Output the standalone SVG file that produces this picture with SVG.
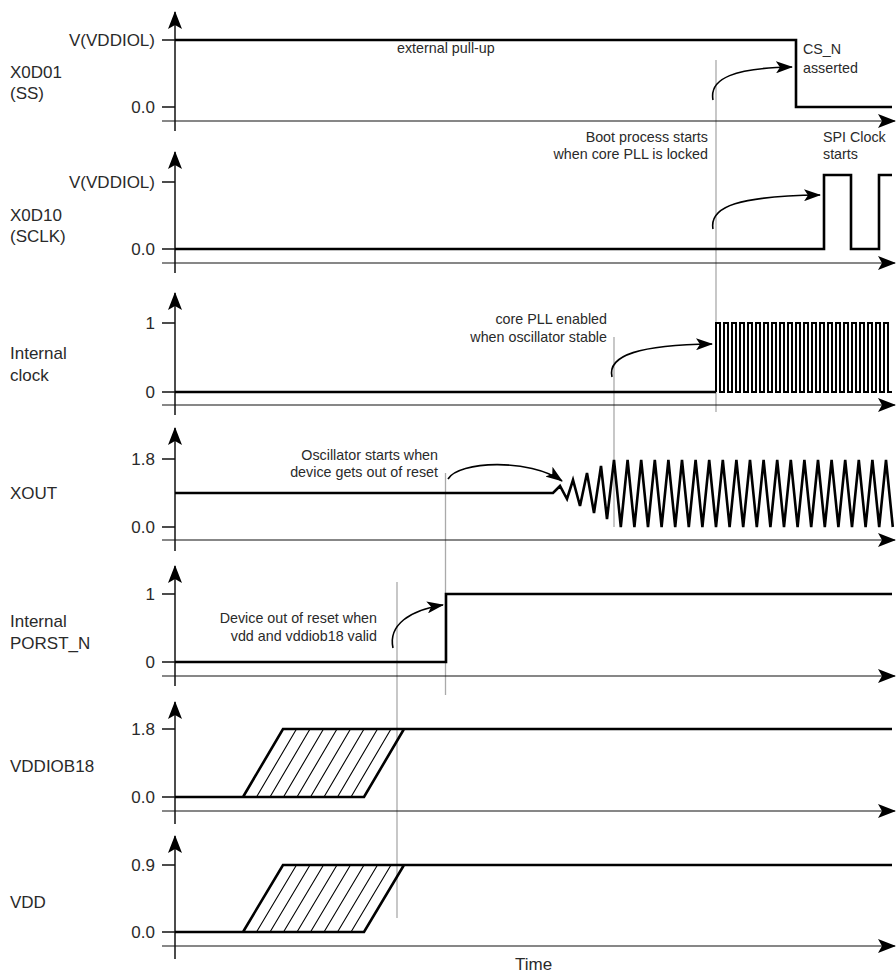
<svg xmlns="http://www.w3.org/2000/svg" width="896" height="975" viewBox="0 0 896 975">
<defs>
<marker id="axh" markerUnits="userSpaceOnUse" viewBox="0 0 18 14" refX="17" refY="7" markerWidth="18" markerHeight="14" orient="auto">
<path d="M0,0 L18,7 L0,14 L4,7 Z" fill="#000"/>
</marker>
<marker id="anh" markerUnits="userSpaceOnUse" viewBox="0 0 17 12" refX="16" refY="6" markerWidth="17" markerHeight="12" orient="auto">
<path d="M0,0 L17,6 L0,12 L4,6 Z" fill="#000"/>
</marker>
<style>
.ax{stroke:#111;stroke-width:1.5;fill:none}
.tax{stroke:#111;stroke-width:1.2;fill:none}
.tk{stroke:#111;stroke-width:1.5;fill:none}
.sig{stroke:#000;stroke-width:2.6;fill:none;stroke-linejoin:miter}
.thin{stroke:#000;stroke-width:2;fill:none}
.hatch{stroke:#000;stroke-width:1.1;fill:none}
.guide{stroke:#aaa;stroke-width:1.3;fill:none}
.ann{stroke:#000;stroke-width:1.6;fill:none}
.lbl{font-family:"Liberation Sans",Arial,sans-serif;font-size:17px;fill:#2a2a2a}
.tl{font-family:"Liberation Sans",Arial,sans-serif;font-size:17px;fill:#2a2a2a;text-anchor:end}
.note{font-family:"Liberation Sans",Arial,sans-serif;font-size:14.3px;fill:#2a2a2a}
.noter{font-family:"Liberation Sans",Arial,sans-serif;font-size:14.3px;fill:#2a2a2a;text-anchor:end}
</style>
</defs>

<g id="guides">
<line class="guide" x1="716" y1="60" x2="716" y2="412"/>
<line class="guide" x1="614" y1="337" x2="614" y2="527"/>
<line class="guide" x1="445.5" y1="473" x2="445.5" y2="695"/>
<line class="guide" x1="397" y1="582" x2="397" y2="918"/>
</g>

<g id="panel-ss">
<line class="ax" x1="175" y1="131" x2="175" y2="12" marker-end="url(#axh)"/>
<line class="tax" x1="162" y1="121" x2="895" y2="121" marker-end="url(#axh)"/>
<line class="tk" x1="162" y1="40" x2="175" y2="40"/>
<line class="tk" x1="162" y1="107" x2="175" y2="107"/>
<text class="tl" x="155" y="46">V(VDDIOL)</text>
<text class="tl" x="155" y="113">0.0</text>
<text class="lbl" x="10" y="78">X0D01</text>
<text class="lbl" x="10" y="99">(SS)</text>
<path class="sig" d="M175,40 H796 V107 H892"/>
<text class="note" x="397" y="53">external pull-up</text>
<text class="note" x="803" y="54">CS_N</text>
<text class="note" x="803" y="72.5">asserted</text>
</g>

<g id="panel-sclk">
<line class="ax" x1="175" y1="273" x2="175" y2="152" marker-end="url(#axh)"/>
<line class="tax" x1="162" y1="263" x2="895" y2="263" marker-end="url(#axh)"/>
<line class="tk" x1="162" y1="182" x2="175" y2="182"/>
<line class="tk" x1="162" y1="249" x2="175" y2="249"/>
<text class="tl" x="155" y="188">V(VDDIOL)</text>
<text class="tl" x="155" y="255">0.0</text>
<text class="lbl" x="10" y="221">X0D10</text>
<text class="lbl" x="10" y="242">(SCLK)</text>
<path class="sig" d="M175,249 H824 V175 H851 V249 H879 V175 H892"/>
<text class="noter" x="708" y="141.5">Boot process starts</text>
<text class="noter" x="708" y="159">when core PLL is locked</text>
<text class="note" x="823" y="141.5">SPI Clock</text>
<text class="note" x="823" y="159">starts</text>
</g>

<g id="panel-clock">
<line class="ax" x1="175" y1="415" x2="175" y2="293" marker-end="url(#axh)"/>
<line class="tax" x1="162" y1="405" x2="895" y2="405" marker-end="url(#axh)"/>
<line class="tk" x1="162" y1="323" x2="175" y2="323"/>
<line class="tk" x1="162" y1="392" x2="175" y2="392"/>
<text class="tl" x="155" y="329">1</text>
<text class="tl" x="155" y="398">0</text>
<text class="lbl" x="10" y="359">Internal</text>
<text class="lbl" x="10" y="381">clock</text>
<path class="sig" d="M175,392 H716"/>
<path class="thin" d="M716,392 V323 h4 V392 h4 V323 h4 V392 h4 V323 h4 V392 h4 V323 h4 V392 h4 V323 h4 V392 h4 V323 h4 V392 h4 V323 h4 V392 h4 V323 h4 V392 h4 V323 h4 V392 h4 V323 h4 V392 h4 V323 h4 V392 h4 V323 h4 V392 h4 V323 h4 V392 h4 V323 h4 V392 h4 V323 h4 V392 h4 V323 h4 V392 h4 V323 h4 V392 h4 V323 h4 V392 h4 V323 h4 V392 h4 V323 h4 V392 h4 V323 h4 V392 h4 V323 h4 V392 h4"/>
<text class="noter" x="607" y="324">core PLL enabled</text>
<text class="noter" x="607" y="342">when oscillator stable</text>
</g>

<g id="panel-xout">
<line class="ax" x1="175" y1="551" x2="175" y2="428" marker-end="url(#axh)"/>
<line class="tax" x1="162" y1="540" x2="895" y2="540" marker-end="url(#axh)"/>
<line class="tk" x1="162" y1="459" x2="175" y2="459"/>
<line class="tk" x1="162" y1="527" x2="175" y2="527"/>
<text class="tl" x="155" y="465">1.8</text>
<text class="tl" x="155" y="533">0.0</text>
<text class="lbl" x="10" y="499">XOUT</text>
<path class="sig" stroke-width="2.4" d="M175,493 H553 L560,486 L567,499 L573,480 L580,506 L587,473 L594,513 L601,466 L607,519 L614,460 l6.8,67 l6.8,-67 l6.8,67 l6.8,-67 l6.8,67 l6.8,-67 l6.8,67 l6.8,-67 l6.8,67 l6.8,-67 l6.8,67 l6.8,-67 l6.8,67 l6.8,-67 l6.8,67 l6.8,-67 l6.8,67 l6.8,-67 l6.8,67 l6.8,-67 l6.8,67 l6.8,-67 l6.8,67 l6.8,-67 l6.8,67 l6.8,-67 l6.8,67 l6.8,-67 l6.8,67 l6.8,-67 l6.8,67 l6.8,-67 l6.8,67 l6.8,-67 l6.8,67 l6.8,-67 l6.8,67 l6.8,-67 l6.8,67 l6.8,-67 l6.8,67"/>
<text class="noter" x="438" y="460">Oscillator starts when</text>
<text class="noter" x="438" y="477">device gets out of reset</text>
</g>

<g id="panel-porst">
<line class="ax" x1="175" y1="686" x2="175" y2="566" marker-end="url(#axh)"/>
<line class="tax" x1="162" y1="676" x2="895" y2="676" marker-end="url(#axh)"/>
<line class="tk" x1="162" y1="594" x2="175" y2="594"/>
<line class="tk" x1="162" y1="662" x2="175" y2="662"/>
<text class="tl" x="155" y="600">1</text>
<text class="tl" x="155" y="668">0</text>
<text class="lbl" x="10" y="627">Internal</text>
<text class="lbl" x="10" y="649">PORST_N</text>
<path class="sig" d="M175,662 H446 V594 H892"/>
<text class="noter" x="377" y="623">Device out of reset when</text>
<text class="noter" x="377" y="641">vdd and vddiob18 valid</text>
</g>

<g id="panel-vddiob18">
<line class="ax" x1="175" y1="824" x2="175" y2="702" marker-end="url(#axh)"/>
<line class="tax" x1="162" y1="811" x2="895" y2="811" marker-end="url(#axh)"/>
<line class="tk" x1="162" y1="729" x2="175" y2="729"/>
<line class="tk" x1="162" y1="797" x2="175" y2="797"/>
<text class="tl" x="155" y="735">1.8</text>
<text class="tl" x="155" y="803">0.0</text>
<text class="lbl" x="10" y="772">VDDIOB18</text>
<path class="hatch" d="M256.5,797 L296.5,729 M270,797 L310,729 M283.5,797 L323.5,729 M297,797 L337,729 M310.5,797 L350.5,729 M324,797 L364,729 M337.5,797 L377.5,729 M351,797 L391,729"/>
<path class="sig" d="M175,797 H364 L404,729 M243,797 L283,729 H892"/>
</g>

<g id="panel-vdd">
<line class="ax" x1="175" y1="959" x2="175" y2="836" marker-end="url(#axh)"/>
<line class="tax" x1="162" y1="946" x2="895" y2="946" marker-end="url(#axh)"/>
<line class="tk" x1="162" y1="865" x2="175" y2="865"/>
<line class="tk" x1="162" y1="932" x2="175" y2="932"/>
<text class="tl" x="155" y="871">0.9</text>
<text class="tl" x="155" y="938">0.0</text>
<text class="lbl" x="10" y="908">VDD</text>
<path class="hatch" d="M256.5,932 L296.5,865 M270,932 L310,865 M283.5,932 L323.5,865 M297,932 L337,865 M310.5,932 L350.5,865 M324,932 L364,865 M337.5,932 L377.5,865 M351,932 L391,865"/>
<path class="sig" d="M175,932 H364 L404,865 M243,932 L283,865 H892"/>
<text class="lbl" x="515" y="970">Time</text>
</g>

<g id="connectors">
<path class="ann" d="M713,100 C709,78 735,68 792,67" marker-end="url(#anh)"/>
<path class="ann" d="M713,229 C709,206 740,196 820,195" marker-end="url(#anh)"/>
<path class="ann" d="M612,377 C607,355 640,345 712,344" marker-end="url(#anh)"/>
<path class="ann" d="M448,479 C458,461 530,458 562,481" marker-end="url(#anh)"/>
<path class="ann" d="M393,648 C388,625 410,610 443,605" marker-end="url(#anh)"/>
</g>
</svg>
